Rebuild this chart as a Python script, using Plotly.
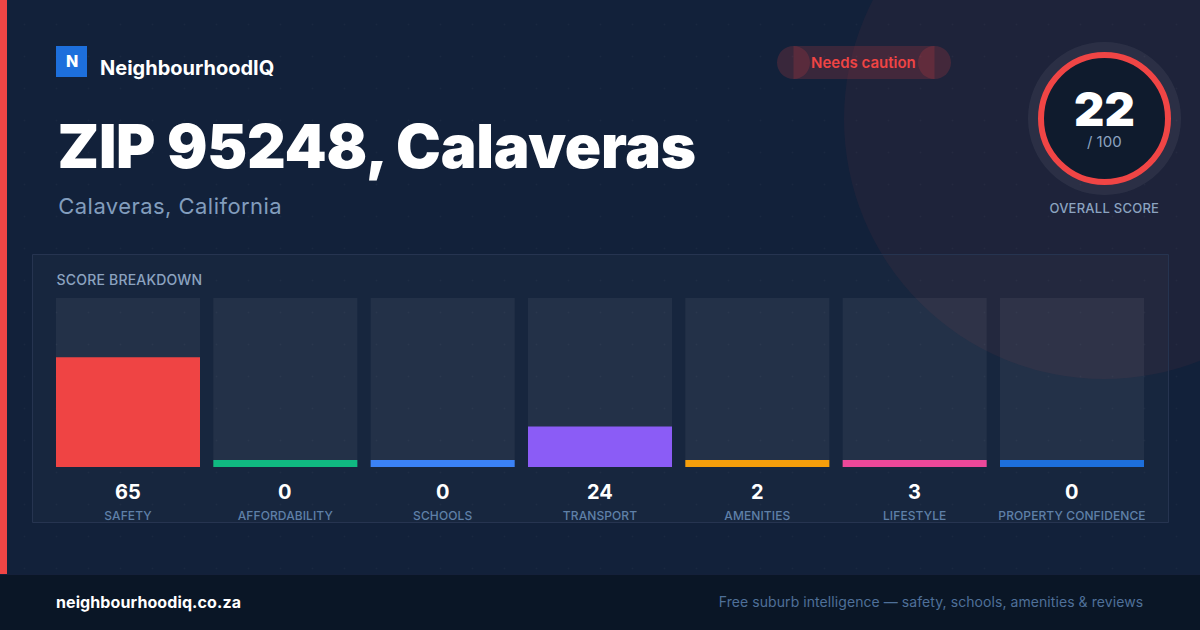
import numpy as np
import plotly.graph_objects as go

W, H = 1200, 630
categories = ["SAFETY", "AFFORDABILITY", "SCHOOLS", "TRANSPORT", "AMENITIES", "LIFESTYLE", "PROPERTY CONFIDENCE"]
scores = [65, 0, 0, 24, 2, 3, 0]
colors = ["#EF4444", "#10B981", "#3B82F6", "#8B5CF6", "#F59E0B", "#EC4899", "#1D6FDC"]
MIN_BAR = 4.14
overall = 22
FONT = "Inter"
BG = "#12213A"

fig = go.Figure()

# faint dot texture
dx = np.arange(24.5, W, 32)
dy = np.arange(24.5, 574, 32)
gx, gy = np.meshgrid(dx, dy)
fig.add_trace(go.Scatter(x=gx.ravel(), y=gy.ravel(), mode="markers", hoverinfo="skip",
                         marker=dict(size=2, color="rgba(255,255,255,0.035)", line=dict(width=0)),
                         xaxis="x", yaxis="y", showlegend=False))

# bars
fig.add_trace(go.Bar(x=categories, y=[100] * 7, width=0.9153, marker=dict(color="rgba(255,255,255,0.055)", line=dict(width=0)),
                     xaxis="x2", yaxis="y2", showlegend=False, hoverinfo="skip"))
fig.add_trace(go.Bar(x=categories, y=[max(s, MIN_BAR) for s in scores], width=0.9153,
                     marker=dict(color=colors, line=dict(width=0)), xaxis="x2", yaxis="y2",
                     showlegend=False, customdata=scores, hovertemplate="%{x}: %{customdata}<extra></extra>"))

def rect(x0, y0, x1, y1, fill, line=None, lw=0, layer="below"):
    return dict(type="rect", xref="x", yref="y", x0=x0, y0=y0, x1=x1, y1=y1, fillcolor=fill,
                line=dict(color=line or "rgba(0,0,0,0)", width=lw), layer=layer)

def circ(cx, cy, r, fill, line=None, lw=0, layer="below"):
    return dict(type="circle", xref="x", yref="y", x0=cx - r, y0=cy - r, x1=cx + r, y1=cy + r, fillcolor=fill,
                line=dict(color=line or "rgba(0,0,0,0)", width=lw), layer=layer)

pill = "rgba(239,68,68,0.18)"
shapes = [
    circ(1104, 119, 260, "rgba(239,68,68,0.055)"),
    rect(32.5, 254.5, 1168.5, 522.5, "rgba(255,255,255,0.025)", "#263450", 1),
    rect(0, 0, 7, 574, "#F04545"),
    rect(0, 574, W, H, "#0A1626"),
    rect(0, 574, W, 575, "#14203A"),
    rect(56, 46, 87, 77, "#1D6FDC", layer="above"),
    circ(793.5, 62.5, 16.5, pill, layer="above"),
    circ(934.5, 62.5, 16.5, pill, layer="above"),
    rect(793.5, 46, 934.5, 79, pill, layer="above"),
    circ(1104.5, 118.5, 76.5, "rgba(255,255,255,0.06)", layer="above"),
    circ(1104.5, 118.5, 63.5, "#0F1B2D", "#F04545", 6, layer="above"),
]

def ann(text, x, y, size, color, weight=400, anchor="center"):
    return dict(text=text, x=x, y=y, xref="x", yref="y", xanchor=anchor, yanchor="middle", showarrow=False,
                borderpad=0, font=dict(family=FONT, size=size, color=color, weight=weight))

annotations = [
    ann("N", 71.5, 61, 16, "#FFFFFF", 800),
    ann("NeighbourhoodIQ", 187, 68, 20, "#FFFFFF", 700),
    ann("ZIP 95248, Calaveras", 376, 146, 60, "#FFFFFF", 900),
    ann("Calaveras, California", 169.5, 206, 22, "#829DBD", 400),
    ann("Needs caution", 863.5, 62, 15, "#EF4444", 600),
    ann(str(overall), 1104.5, 108, 47, "#FFFFFF", 900),
    ann("/ 100", 1104.5, 141, 15, "#8CA3C0", 400),
    ann("OVERALL SCORE", 1104.5, 208, 13, "#8CA3C0", 500),
    ann("SCORE BREAKDOWN", 129, 279.5, 14, "#8CA3C0", 500),
    ann("neighbourhoodiq.co.za", 148.5, 602, 16, "#FFFFFF", 700),
    ann("Free suburb intelligence — safety, schools, amenities & reviews", 930.5, 601.5, 14, "#4F7099", 400),
]
for c, s in zip(categories, scores):
    annotations.append(dict(text=str(s), x=c, y=0, xref="x2", yref="y2", yshift=-24.5, showarrow=False,
                            xanchor="center", yanchor="middle", font=dict(family=FONT, size=20, color="#FFFFFF", weight=700)))

fig.update_layout(
    width=W, height=H, margin=dict(l=0, r=0, t=0, b=0), autosize=False,
    paper_bgcolor=BG, plot_bgcolor="rgba(0,0,0,0)", barmode="overlay", shapes=shapes, annotations=annotations,
    showlegend=False, hovermode="closest",
    xaxis=dict(domain=[0, 1], range=[0, W], visible=False, fixedrange=True),
    yaxis=dict(domain=[0, 1], range=[H, 0], visible=False, fixedrange=True),
    xaxis2=dict(domain=[56 / W, 1144 / W], anchor="y2", type="category", range=[-0.4576, 6.4576],
                showgrid=False, zeroline=False, showline=False, ticks="outside", ticklen=38,
                tickcolor="rgba(0,0,0,0)", tickfont=dict(family=FONT, size=12, color="#5F80A8", weight=500),
                tickangle=0, fixedrange=True),
    yaxis2=dict(domain=[1 - 467 / H, 1 - 298 / H], anchor="x2", range=[0, 100], visible=False, fixedrange=True),
)

spacing = """
document.documentElement.style.margin='0';
document.body.style.margin='0';
document.body.style.background='#12213A';
var gd = document.getElementById('{plot_id}');
var map = {'ZIP 95248, Calaveras':'-0.25px','Calaveras, California':'0.45px','OVERALL SCORE':'0.25px',
  'SCORE BREAKDOWN':'0.2px','neighbourhoodiq.co.za':'0.1px',
  'Free suburb intelligence — safety, schools, amenities & reviews':'0.07px'};
gd.querySelectorAll('text').forEach(function(t){
  var k=t.textContent;
  if(map[k]) t.style.letterSpacing=map[k];
});
gd.querySelectorAll('.xtick text, .x2tick text').forEach(function(t){t.style.letterSpacing='0.1px';});
"""
fig.write_html("out.html", post_script=spacing, config={"displayModeBar": False, "responsive": False})
